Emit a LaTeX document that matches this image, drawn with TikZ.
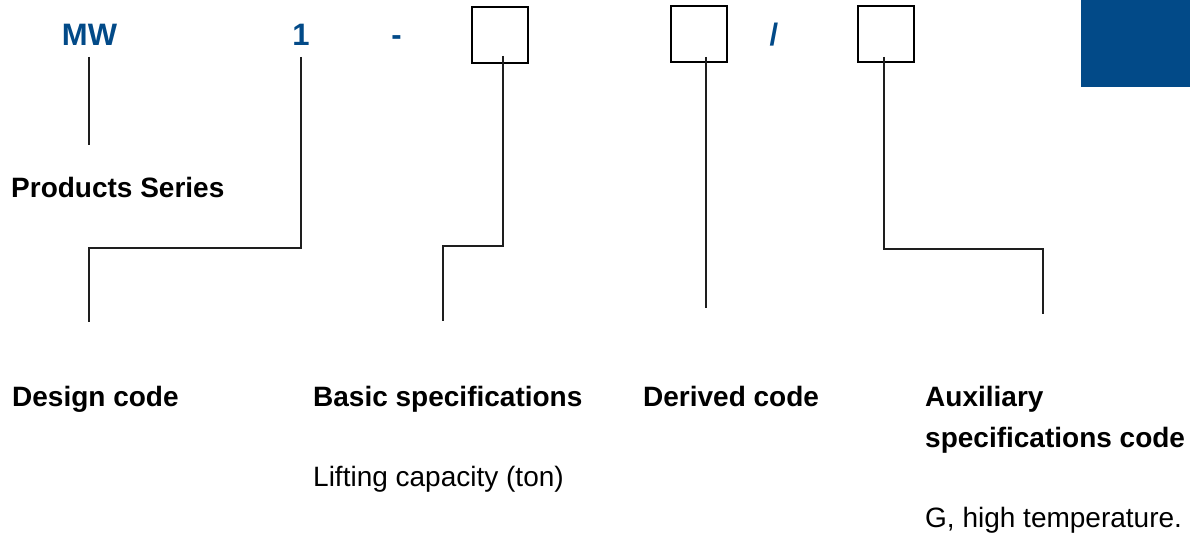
\documentclass[tikz,border=0pt]{standalone}
\usepackage{fontspec}
\setmainfont{Liberation Sans}
\definecolor{codeblue}{RGB}{2,74,136}
\definecolor{leadgray}{RGB}{30,30,30}
\begin{document}
\begin{tikzpicture}[x=1pt,y=-1pt,
  codechar/.style={anchor=base,inner sep=0pt,text=codeblue,
    font=\fontsize{31}{36}\selectfont\bfseries},
  slotbox/.style={draw=black,line width=1.4pt,minimum size=56pt,inner sep=0pt},
  lead/.style={draw=leadgray,line width=1.2pt},
  heading/.style={anchor=base west,inner sep=0pt,
    font=\fontsize{28}{34}\selectfont\bfseries},
  plain/.style={anchor=base west,inner sep=0pt,
    font=\fontsize{28}{34}\selectfont}]
  \useasboundingbox (0,0) rectangle (1190,537);

  % corner tab
  \fill[codeblue] (1081,0) rectangle (1190,87);

  % model code characters and slots
  \node[codechar] (mw) at (89.5,46) {MW};
  \node[codechar] (one) at (301,46) {1};
  \node[codechar] (dash) at (396.5,46) {-};
  \node[slotbox] (slotA) at (500,35) {};
  \node[slotbox] (slotB) at (699,34) {};
  \node[codechar] (slash) at (774,46) {/};
  \node[slotbox] (slotC) at (886,34) {};

  % descriptions
  \node[heading] (series) at (11,198) {Products Series};
  \node[heading] (design) at (12,406) {Design code};
  \node[heading] (basic) at (313,406) {Basic specifications};
  \node[plain] (lifting) at (313,486) {Lifting capacity (ton)};
  \node[heading] (derived) at (643,406) {Derived code};
  \node[heading] (aux) at (925,406) {Auxiliary};
  \node[heading] (auxb) at (925,447) {specifications code};
  \node[plain] (hightemp) at (925,527) {G, high temperature.};

  % leader line anchor points
  \coordinate (mwTop) at (89,57);
  \coordinate (mwEnd) at (89,145);
  \coordinate (oneTop) at (301,57);
  \coordinate (oneEnd) at (89,322);
  \coordinate (aTop) at (503,56);
  \coordinate (aEnd) at (443,321);
  \coordinate (bTop) at (706,57);
  \coordinate (bEnd) at (706,308);
  \coordinate (cTop) at (884,57);
  \coordinate (cEnd) at (1043,314);

  % leader lines
  \draw[lead] (mwTop) -- (mwEnd);
  \draw[lead] (oneTop) -- (301,248) -- (89,248) -- (oneEnd);
  \draw[lead] (aTop) -- (503,246) -- (443,246) -- (aEnd);
  \draw[lead] (bTop) -- (bEnd);
  \draw[lead] (cTop) -- (884,249) -- (1043,249) -- (cEnd);
\end{tikzpicture}
\end{document}
